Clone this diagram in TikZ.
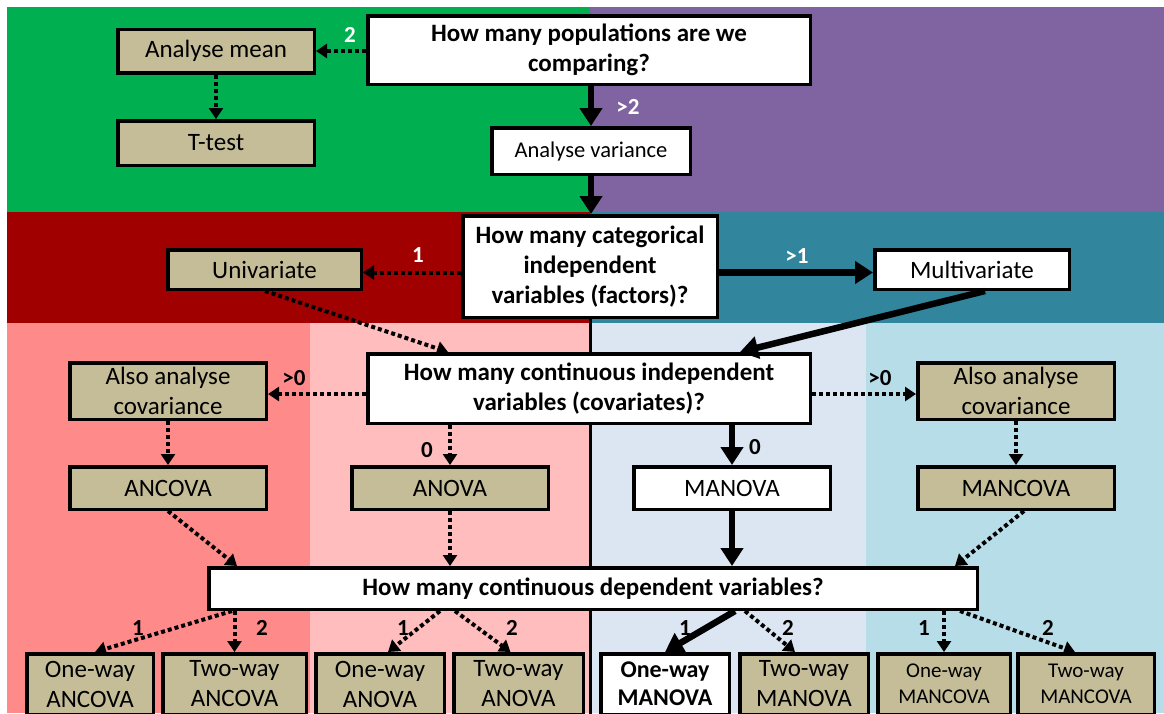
\documentclass[tikz,border=0pt]{standalone}
\usepackage{fontspec}
\setmainfont{Carlito}
\usetikzlibrary{arrows.meta}

\definecolor{zgreen}{HTML}{00B050}
\definecolor{zpurple}{HTML}{8064A2}
\definecolor{zdarkred}{HTML}{A00000}
\definecolor{zteal}{HTML}{31859C}
\definecolor{zsalmon}{HTML}{FF8A8A}
\definecolor{zpink}{HTML}{FFBDBD}
\definecolor{zgrayblue}{HTML}{DCE6F2}
\definecolor{zlightblue}{HTML}{B7DEE8}
\definecolor{ztan}{HTML}{C4BD97}

\tikzset{
  box/.style={draw=black, line width=3.5pt, inner sep=0pt, align=center,
    font=\fontsize{25}{30}\selectfont},
  tanbox/.style={box, fill=ztan},
  whitebox/.style={box, fill=white},
  qbox/.style={box, fill=white, font=\fontsize{25}{30}\selectfont\bfseries},
  smallbox/.style={font=\fontsize{21}{26}\selectfont},
  dotarrow/.style={line width=4pt, dash pattern=on 4pt off 3pt,
    -{Triangle[length=11pt,width=14pt]}},
  thickarrow/.style={line width=6.5pt, -{Triangle[length=18pt,width=22pt]}},
  wlab/.style={text=white, inner sep=0pt, font=\fontsize{23}{26}\selectfont\bfseries},
  blab/.style={text=black, inner sep=0pt, font=\fontsize{23}{26}\selectfont\bfseries},
}

\begin{document}
\begin{tikzpicture}[x=1pt,y=-1pt]
\useasboundingbox (0,0) rectangle (1164,713);
\fill[white] (0,0) rectangle (1164,713);

% coloured bands
\fill[zgreen] (7,7) rectangle (590,212);
\fill[zpurple] (590,7) rectangle (1164,212);
\fill[zdarkred] (7,212) rectangle (590,323);
\fill[zteal] (590,212) rectangle (1164,323);
\fill[zsalmon] (7,323) rectangle (310,713);
\fill[zpink] (310,323) rectangle (590,713);
\fill[zgrayblue] (590,323) rectangle (866,713);
\fill[zlightblue] (866,323) rectangle (1164,713);
\draw[line width=3pt] (590,310) -- (590,716);

% decision and result boxes
\node[qbox, minimum width=442.5pt, minimum height=68.5pt] (q1) at (589,50)
  {How many populations are we\\comparing?};
\node[tanbox, minimum width=196.5pt, minimum height=43.5pt] (mean) at (216,51) {Analyse mean};
\node[tanbox, minimum width=196.5pt, minimum height=44.5pt] (ttest) at (216,143) {T-test};
\node[whitebox, minimum width=198.5pt, minimum height=46.5pt,
  font=\fontsize{22.5}{26}\selectfont] (var) at (591,151) {Analyse variance};

\node[qbox, minimum width=254.5pt, minimum height=101.5pt] (q2) at (590,266.5)
  {How many categorical\\independent\\variables (factors)?};
\node[tanbox, minimum width=193.5pt, minimum height=39.5pt] (uni) at (264.5,269.5) {Univariate};
\node[whitebox, minimum width=194.5pt, minimum height=39.5pt] (multi) at (972,269.5) {Multivariate};

\node[qbox, minimum width=442.5pt, minimum height=69.5pt] (q3) at (589,388.5)
  {How many continuous independent\\variables (covariates)?};
\node[tanbox, minimum width=196.5pt, minimum height=56.5pt] (covL) at (168,391)
  {Also analyse\\covariance};
\node[tanbox, minimum width=196.5pt, minimum height=56.5pt] (covR) at (1016,391)
  {Also analyse\\covariance};

\node[tanbox, minimum width=196.5pt, minimum height=42.5pt] (ancova) at (168,488) {ANCOVA};
\node[tanbox, minimum width=196.5pt, minimum height=42.5pt] (anova) at (450,488) {ANOVA};
\node[whitebox, minimum width=196.5pt, minimum height=42.5pt] (manova) at (732,488) {MANOVA};
\node[tanbox, minimum width=196.5pt, minimum height=42.5pt] (mancova) at (1016,488) {MANCOVA};

\node[qbox, minimum width=768.5pt, minimum height=41.5pt] (q4) at (593,588.5)
  {How many continuous dependent variables?};

\node[tanbox, minimum width=126.5pt, minimum height=60.5pt] (b1) at (90,684) {One-way\\ANCOVA};
\node[tanbox, minimum width=143.5pt, minimum height=60.5pt] (b2) at (234.5,684) {Two-way\\ANCOVA};
\node[tanbox, minimum width=128.5pt, minimum height=60.5pt] (b3) at (380,684) {One-way\\ANOVA};
\node[tanbox, minimum width=129.5pt, minimum height=60.5pt] (b4) at (518.5,684) {Two-way\\ANOVA};
\node[whitebox, minimum width=128.5pt, minimum height=60.5pt,
  font=\fontsize{24}{28}\selectfont\bfseries] (b5) at (665,684) {One-way\\MANOVA};
\node[tanbox, minimum width=128.5pt, minimum height=60.5pt] (b6) at (804,684) {Two-way\\MANOVA};
\node[tanbox, smallbox, minimum width=132.5pt, minimum height=60.5pt] (b7) at (944,684) {One-way\\MANCOVA};
\node[tanbox, smallbox, minimum width=136.5pt, minimum height=60.5pt] (b8) at (1086,684) {Two-way\\MANCOVA};

% connectors
\draw[dotarrow] (q1.west |- mean.east) -- (mean.east);
\draw[dotarrow] (mean.south) -- (ttest.north);
\draw[thickarrow] (var.north |- q1.south) -- (var.north);
\draw[thickarrow] (var.south) -- (var.south |- q2.north);
\draw[dotarrow] ([yshift=-3pt]q2.west |- uni.east) -- ([yshift=-3pt]uni.east);
\draw[thickarrow] ([yshift=-3pt]q2.east |- multi.west) -- ([yshift=-3pt]multi.west);
\draw[dotarrow] ([xshift=0.5pt]uni.south) -- ([xshift=-141pt]q3.north);
\draw[thickarrow] ([xshift=13pt]multi.south) -- ([xshift=151pt]q3.north);
\draw[dotarrow] ([yshift=-3pt]q3.west |- covL.east) -- ([yshift=-3pt]covL.east);
\draw[dotarrow] ([yshift=-3pt]q3.east |- covR.west) -- ([yshift=-3pt]covR.west);
\draw[dotarrow] (covL.south) -- (ancova.north);
\draw[dotarrow] (covR.south) -- (mancova.north);
\draw[dotarrow] (anova.north |- q3.south) -- (anova.north);
\draw[thickarrow] (manova.north |- q3.south) -- (manova.north);
\draw[dotarrow] (ancova.south) -- ([xshift=-356pt]q4.north);
\draw[dotarrow] (anova.south) -- (anova.south |- q4.north);
\draw[thickarrow] (manova.south) -- (manova.south |- q4.north);
\draw[dotarrow] ([xshift=8pt]mancova.south) -- ([xshift=362pt]q4.north);

\draw[dotarrow] ([xshift=-361pt]q4.south) -- ([xshift=5pt]b1.north);
\draw[dotarrow] (b2.north |- q4.south) -- (b2.north);
\draw[dotarrow] ([xshift=-153pt]q4.south) -- ([xshift=8pt]b3.north);
\draw[dotarrow] ([xshift=-138pt]q4.south) -- ([xshift=-8pt]b4.north);
\draw[thickarrow] ([xshift=142pt]q4.south) -- (b5.north);
\draw[dotarrow] ([xshift=152pt]q4.south) -- ([xshift=-9pt]b6.north);
\draw[dotarrow] (b7.north |- q4.south) -- (b7.north);
\draw[dotarrow] ([xshift=367pt]q4.south) -- ([xshift=-11pt]b8.north);

% branch labels
\node[wlab] (l2) at (350,35) {2};
\node[wlab] (lgt2) at (628,107) {>2};
\node[wlab] (lu) at (418,255) {1};
\node[wlab] (lm) at (797,256) {>1};
\node[blab] (lcl) at (294,378) {>0};
\node[blab] (lcr) at (880,378) {>0};
\node[blab] (la0) at (427,450) {0};
\node[blab] (lm0) at (755,447) {0};
\node[blab] (d1) at (138,628) {1};
\node[blab] (d2) at (262,628) {2};
\node[blab] (d3) at (403,628) {1};
\node[blab] (d4) at (512,628) {2};
\node[blab] (d5) at (685,628) {1};
\node[blab] (d6) at (788,628) {2};
\node[blab] (d7) at (924,628) {1};
\node[blab] (d8) at (1048,628) {2};
\end{tikzpicture}
\end{document}
